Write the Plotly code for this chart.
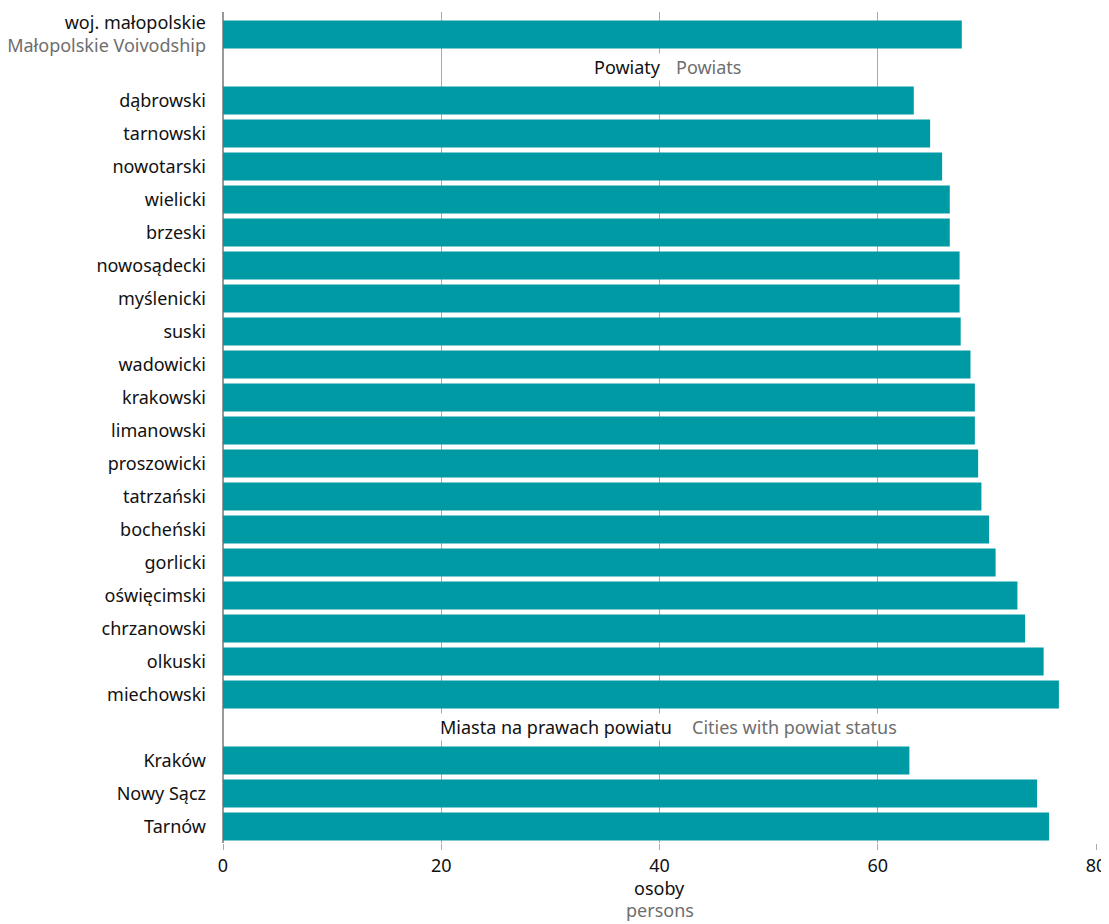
import plotly.graph_objects as go

# --- data ---
voivodship_label = "woj. małopolskie"
voivodship_label_en = "Małopolskie Voivodship"
voivodship_value = 67.7

powiaty = ["dąbrowski", "tarnowski", "nowotarski", "wielicki", "brzeski", "nowosądecki",
           "myślenicki", "suski", "wadowicki", "krakowski", "limanowski", "proszowicki",
           "tatrzański", "bocheński", "gorlicki", "oświęcimski", "chrzanowski", "olkuski",
           "miechowski"]
powiaty_values = [63.3, 64.8, 65.9, 66.6, 66.6, 67.5, 67.5, 67.6, 68.5, 68.9, 68.9, 69.2,
                  69.5, 70.2, 70.8, 72.8, 73.5, 75.2, 76.6]

miasta = ["Kraków", "Nowy Sącz", "Tarnów"]
miasta_values = [62.9, 74.6, 75.7]

section_powiaty = ("Powiaty", "Powiats")
section_miasta = ("Miasta na prawach powiatu", "Cities with powiat status")

x_ticks = [0, 20, 40, 60, 80]
x_title_pl = "osoby"
x_title_en = "persons"

BAR = "#009aa5"
GREY = "#6e6e6e"
FONT = "Noto Sans"
FS = 18

# --- build rows ---
rows = []  # (label, value) ; None value => section gap
rows.append((f"{voivodship_label}<br><span style='color:{GREY}'>{voivodship_label_en}</span>", voivodship_value))
rows.append(("__sec_powiaty", None))
rows += list(zip(powiaty, powiaty_values))
rows.append(("__sec_miasta", None))
rows += list(zip(miasta, miasta_values))

ys = [i for i, (l, v) in enumerate(rows) if v is not None]
xs = [v for l, v in rows if v is not None]
labels = [l for l, v in rows if v is not None]
sec_p = [i for i, (l, v) in enumerate(rows) if l == "__sec_powiaty"][0]
sec_m = [i for i, (l, v) in enumerate(rows) if l == "__sec_miasta"][0]

fig = go.Figure(go.Bar(
    x=xs, y=ys, orientation="h", marker=dict(color=BAR, line=dict(width=0)),
    width=0.85, hoverinfo="x+y",
))

ann = []
def section(idx, pl, en, xpl, xen):
    ann.append(dict(x=xpl, y=idx, xref="x", yref="y", text=pl, showarrow=False,
                    xanchor="right", yanchor="middle", bgcolor="white",
                    font=dict(family=FONT, size=FS, color="#111")))
    ann.append(dict(x=xen, y=idx, xref="x", yref="y", text=en, showarrow=False,
                    xanchor="left", yanchor="middle", bgcolor="white",
                    font=dict(family=FONT, size=FS, color=GREY)))

section(sec_p, *section_powiaty, 40.3, 41.3)
section(sec_m, *section_miasta, 41.3, 42.8)

ann.append(dict(x=0.5, y=-0.054, xref="paper", yref="paper", showarrow=False,
                text=x_title_pl, yanchor="middle", font=dict(family=FONT, size=FS, color="#111")))
ann.append(dict(x=0.5, y=-0.0805, xref="paper", yref="paper", showarrow=False,
                text=x_title_en, yanchor="middle", font=dict(family=FONT, size=FS, color=GREY)))

# page body has an 8px margin, so the figure is sized/offset to compensate
fig.update_layout(
    width=1101, height=916,
    margin=dict(l=215, r=13, t=4, b=81),
    plot_bgcolor="white", paper_bgcolor="white",
    font=dict(family=FONT, size=FS, color="#111"),
    showlegend=False,
    annotations=ann,
    xaxis=dict(range=[0, 80], tickvals=x_ticks, showgrid=True, gridcolor="#aaaaaa",
               gridwidth=1, zeroline=True, zerolinecolor="#999999", zerolinewidth=2,
               ticks="outside", ticklen=6, tickcolor="#aaaaaa", showline=False,
               automargin=False,
               tickfont=dict(family=FONT, size=FS, color="#111")),
    yaxis=dict(range=[len(rows) - 0.5, -0.68], tickvals=ys, ticktext=labels,
               showgrid=False, zeroline=False, ticks="", ticklabelstandoff=16,
               automargin=False, ticklabeloverflow="allow",
               tickfont=dict(family=FONT, size=FS, color="#111")),
    bargap=0.15,
)

fig.write_html("out.html")
